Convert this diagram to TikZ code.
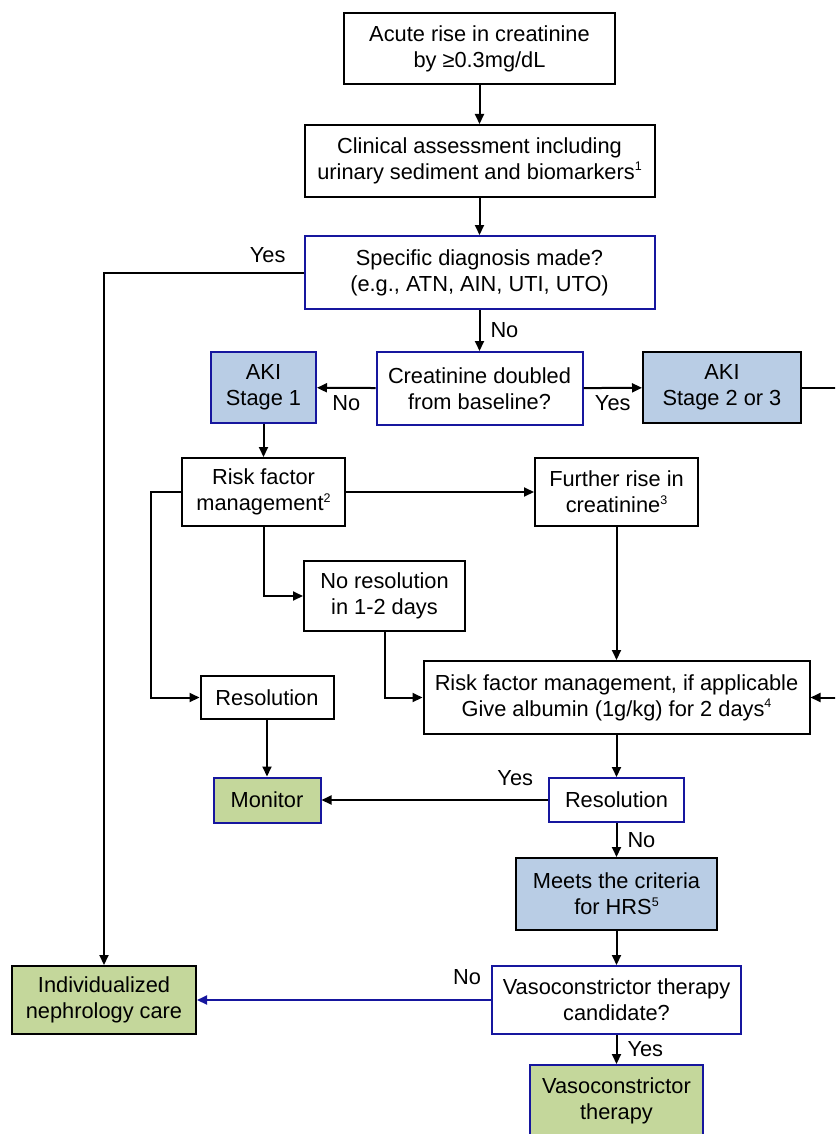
\documentclass[tikz,border=0pt]{standalone}
\usepackage{fontspec}
\setmainfont{Liberation Sans}
\usepackage{xcolor}
\usetikzlibrary{arrows.meta, positioning}
\definecolor{qblue}{RGB}{22,22,158}
\definecolor{akifill}{RGB}{185,205,229}
\definecolor{carefill}{RGB}{196,215,155}
\newcommand{\refnum}[1]{\raisebox{0.75ex}{\fontsize{12.5}{12.5}\selectfont #1}}

\begin{document}
\begin{tikzpicture}[x=1pt, y=-1pt, line width=2pt,
    every node/.style={font=\fontsize{21.8}{26}\selectfont, align=center, inner sep=0pt},
    box/.style={draw=black, fill=white},
    qbox/.style={draw=qblue, fill=white},
    stagebox/.style={draw=black, fill=akifill},
    flow/.style={arrows={-Triangle[length=10pt, width=9pt]}}]

  \clip (0, 0) rectangle (835, 1134);

  % Draw boxes.
  \node [box, minimum width=271, minimum height=71] (acute) at (479.5, 48.5)
        {Acute rise in creatinine\\by ≥0.3mg/dL};
  \node [box, minimum width=350, minimum height=72] (clin) at (479.5, 161)
        {Clinical assessment including\\urinary sediment and biomarkers\refnum{1}};
  \node [qbox, minimum width=350, minimum height=73] (spec) at (479.5, 272.5)
        {Specific diagnosis made?\\(e.g., ATN, AIN, UTI, UTO)};
  \node [qbox, minimum width=206, minimum height=73] (dbl) at (479.5, 388.5)
        {Creatinine doubled\\from baseline?};
  \node [stagebox, draw=qblue, minimum width=105, minimum height=71] (aki1) at (263.5, 387.5)
        {AKI\\Stage 1};
  \node [stagebox, minimum width=158, minimum height=71] (aki23) at (722, 387.5)
        {AKI\\Stage 2 or 3};
  \node [box, minimum width=163, minimum height=68] (rfm1) at (263.5, 492)
        {Risk factor\\management\refnum{2}};
  \node [box, minimum width=163, minimum height=68] (rise) at (616.5, 492)
        {Further rise in\\creatinine\refnum{3}};
  \node [box, minimum width=161, minimum height=70] (nores) at (384.5, 596)
        {No resolution\\in 1-2 days};
  \node [box, minimum width=133, minimum height=43] (resl) at (267, 697.5)
        {Resolution};
  \node [box, minimum width=386, minimum height=73] (rfm2) at (616.5, 697.5)
        {Risk factor management, if applicable\\Give albumin (1g/kg) for 2 days\refnum{4}};
  \node [qbox, fill=carefill, minimum width=107, minimum height=45] (mon) at (267, 800)
        {Monitor};
  \node [qbox, minimum width=135, minimum height=44] (resr) at (616.5, 800)
        {Resolution};
  \node [stagebox, minimum width=201, minimum height=72] (hrs) at (616.5, 894)
        {Meets the criteria\\for HRS\refnum{5}};
  \node [box, fill=carefill, minimum width=184, minimum height=68] (indiv) at (104, 1000)
        {Individualized\\nephrology care};
  \node [qbox, minimum width=249, minimum height=68] (cand) at (616.5, 1000)
        {Vasoconstrictor therapy\\candidate?};
  \node [qbox, fill=carefill, minimum width=173, minimum height=72] (vaso) at (616.5, 1101)
        {Vasoconstrictor\\therapy};

  \coordinate (offpage) at (860, 0);

  % Draw main column.
  \draw [flow] (acute) -- (clin);
  \draw [flow] (clin) -- (spec);
  \draw [flow] (spec) -- (dbl) node [midway, right=10pt] {No};
  \draw [flow] (spec.west) node [anchor=base east, xshift=-17pt, yshift=10pt] {Yes}
        -| (indiv.north);

  % Draw staging branches.
  \draw [flow] (dbl) -- (aki1) node [midway, below=7pt] {No};
  \draw [flow] (dbl) -- (aki23) node [midway, below=7pt] {Yes};
  \draw [flow] (aki23.east) -- (aki23.east -| offpage) |- (rfm2.east);

  % Draw stage 1 path.
  \draw [flow] (aki1) -- (rfm1);
  \draw [flow] (rfm1) -- (rise);
  \draw [flow] (rfm1.west) -- ++(-30, 0) |- (resl);
  \draw [flow] (rfm1.south) |- (nores.west);
  \draw [flow] (nores.south) |- (rfm2.west);
  \draw [flow] (rise) -- (rfm2);
  \draw [flow] (resl) -- (mon);

  % Draw albumin path.
  \draw [flow] (rfm2) -- (resr);
  \draw [flow] (resr.west) node [anchor=base east, xshift=-14pt, yshift=15pt] {Yes}
        -- (mon.east);
  \draw [flow] (resr) -- (hrs) node [midway, right=10pt] {No};
  \draw [flow] (hrs) -- (cand);
  \draw [flow, draw=qblue, fill=qblue] (cand.west)
        node [anchor=base east, xshift=-9pt, yshift=16pt, text=black] {No} -- (indiv.east);
  \draw [flow] (cand) -- (vaso) node [midway, right=10pt] {Yes};

\end{tikzpicture}
\end{document}
